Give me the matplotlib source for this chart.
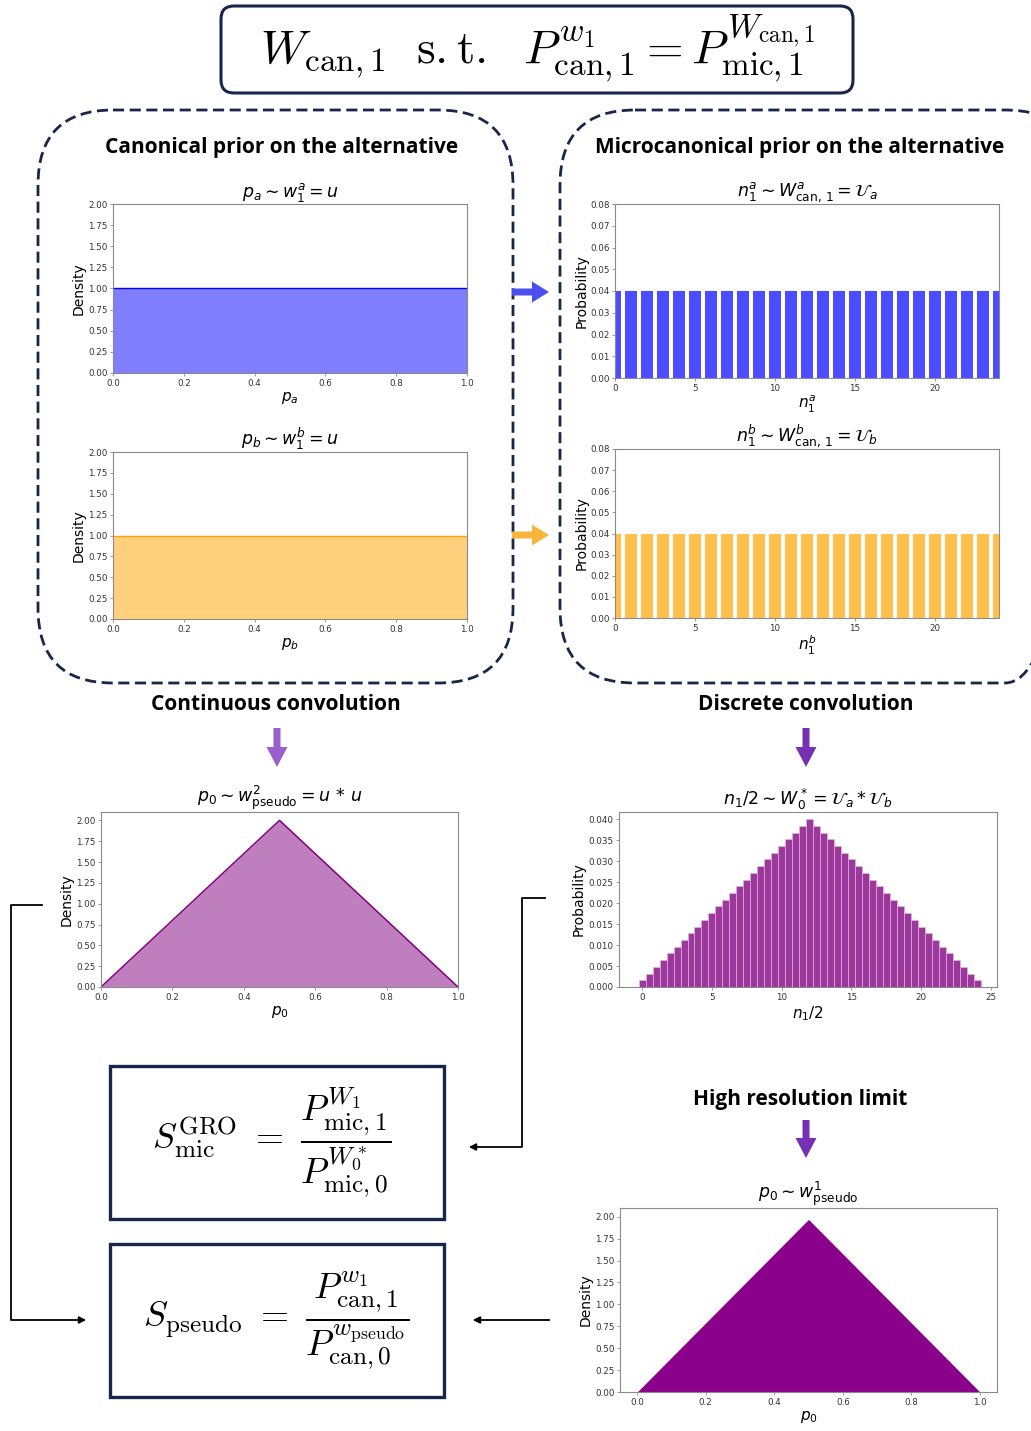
import matplotlib
matplotlib.use('Agg')
import matplotlib.pyplot as plt
from matplotlib.patches import FancyBboxPatch, Rectangle, FancyArrow

# ---------------- data ----------------
pa = [0.0, 1.0]
dens_a = [1.0, 1.0]
pb = [0.0, 1.0]
dens_b = [1.0, 1.0]

n1a = [0, 1, 2, 3, 4, 5, 6, 7, 8, 9, 10, 11, 12, 13, 14, 15, 16, 17, 18, 19, 20, 21, 22, 23, 24]
prob_a = [0.04] * 25
n1b = [0, 1, 2, 3, 4, 5, 6, 7, 8, 9, 10, 11, 12, 13, 14, 15, 16, 17, 18, 19, 20, 21, 22, 23, 24]
prob_b = [0.04] * 25

p0 = [0.0, 0.5, 1.0]
dens_p0 = [0.0, 2.0, 0.0]

n1_half = [0, 0.5, 1, 1.5, 2, 2.5, 3, 3.5, 4, 4.5, 5, 5.5, 6, 6.5, 7, 7.5, 8, 8.5, 9, 9.5,
           10, 10.5, 11, 11.5, 12, 12.5, 13, 13.5, 14, 14.5, 15, 15.5, 16, 16.5, 17, 17.5,
           18, 18.5, 19, 19.5, 20, 20.5, 21, 21.5, 22, 22.5, 23, 23.5, 24]
prob_conv = [0.0016, 0.0032, 0.0048, 0.0064, 0.0080, 0.0096, 0.0112, 0.0128, 0.0144, 0.0160,
             0.0176, 0.0192, 0.0208, 0.0224, 0.0240, 0.0256, 0.0272, 0.0288, 0.0304, 0.0320,
             0.0336, 0.0352, 0.0368, 0.0384, 0.0400, 0.0384, 0.0368, 0.0352, 0.0336, 0.0320,
             0.0304, 0.0288, 0.0272, 0.0256, 0.0240, 0.0224, 0.0208, 0.0192, 0.0176, 0.0160,
             0.0144, 0.0128, 0.0112, 0.0096, 0.0080, 0.0064, 0.0048, 0.0032, 0.0016]

p0_hr = [0.0, 0.5, 1.0]
dens_hr = [0.0, 1.97, 0.0]

# ---------------- figure ----------------
W, H = 1031, 1431
fig = plt.figure(figsize=(W / 100, H / 100), dpi=100)
ov = fig.add_axes([0, 0, 1, 1])
ov.set_xlim(0, W)
ov.set_ylim(H, 0)
ov.axis('off')

NAVY = '#17264a'
TICK_FS = 6.3
LAB_FS = 10
TIT_FS = 12.5


def ax_px(l, t, r, b):
    return fig.add_axes([l / W, 1 - b / H, (r - l) / W, (b - t) / H])


def style(ax):
    for s in ax.spines.values():
        s.set_color('#8a8a8a')
        s.set_linewidth(0.8)
    ax.tick_params(labelsize=TICK_FS, length=2.5, width=0.6, colors='#8a8a8a',
                   labelcolor='#333333', pad=1.5)


# ---- boxes ----
ov.add_patch(FancyBboxPatch((221, 6), 632, 87, boxstyle='round,pad=0,rounding_size=13',
                            fc='white', ec=NAVY, lw=2.2))
ov.add_patch(FancyBboxPatch((38, 110), 475, 573, boxstyle='round,pad=0,rounding_size=75',
                            fc='none', ec=NAVY, lw=2.0, ls=(0, (4, 2))))
ov.add_patch(FancyBboxPatch((560, 110), 520, 573, boxstyle='round,pad=0,rounding_size=75',
                            fc='none', ec=NAVY, lw=2.0, ls=(0, (4, 2))))
ov.add_patch(Rectangle((110, 1066), 334, 153, fc='white', ec=NAVY, lw=2.4))
ov.add_patch(Rectangle((110, 1244), 334, 153, fc='white', ec=NAVY, lw=2.4))

# ---- formulas ----
ov.text(538, 48, r'$W_{\rm can,1}\ \ {\rm s.t.}\ \ P^{w_1}_{\rm can,1} = P^{W_{\rm can,1}}_{\rm mic,1}$',
        ha='center', va='center', fontsize=34, math_fontfamily='cm')
ov.text(272, 1143, r'$S^{\rm GRO}_{\rm mic}\ =\ \dfrac{P^{W_1}_{\rm mic,1}}{P^{W_0^*}_{\rm mic,0}}$',
        ha='center', va='center', fontsize=26, math_fontfamily='cm')
ov.text(276, 1321, r'$S_{\rm pseudo}\ =\ \dfrac{P^{w_1}_{\rm can,1}}{P^{w_{\rm pseudo}}_{\rm can,0}}$',
        ha='center', va='center', fontsize=26, math_fontfamily='cm')

# ---- section titles ----
tkw = dict(ha='center', va='center', fontsize=15, fontweight='bold', family='Open Sans')
ov.text(282, 148, 'Canonical prior on the alternative', **tkw)
ov.text(800, 148, 'Microcanonical prior on the alternative', **tkw)
ov.text(276, 704, 'Continuous convolution', **tkw)
ov.text(806, 704, 'Discrete convolution', **tkw)
ov.text(800, 1100, 'High resolution limit', **tkw)

# ---- block arrows ----
ov.add_patch(FancyArrow(512, 292, 37, 0, width=7, head_width=21, head_length=17,
                        length_includes_head=True, color='#4b4ff0', lw=0))
ov.add_patch(FancyArrow(512, 535, 37, 0, width=7, head_width=21, head_length=17,
                        length_includes_head=True, color='#f7b53c', lw=0))
ov.add_patch(FancyArrow(277, 728, 0, 39, width=7, head_width=21, head_length=20,
                        length_includes_head=True, color='#9b5fd0', lw=0))
ov.add_patch(FancyArrow(806, 728, 0, 39, width=7, head_width=21, head_length=20,
                        length_includes_head=True, color='#7530b5', lw=0))
ov.add_patch(FancyArrow(806, 1120, 0, 38, width=7, head_width=21, head_length=20,
                        length_includes_head=True, color='#7530b5', lw=0))

# ---- connector lines ----
ov.plot([42, 11, 11, 80], [905, 905, 1320, 1320], color='black', lw=1.3)
ov.annotate('', xy=(89, 1320), xytext=(78, 1320),
            arrowprops=dict(arrowstyle='-|>', color='black', lw=1.3, mutation_scale=10))
ov.plot([545, 522, 522, 476], [898, 898, 1147, 1147], color='black', lw=1.3)
ov.annotate('', xy=(466, 1147), xytext=(478, 1147),
            arrowprops=dict(arrowstyle='-|>', color='black', lw=1.3, mutation_scale=10))
ov.plot([549, 480], [1320, 1320], color='black', lw=1.3)
ov.annotate('', xy=(470, 1320), xytext=(482, 1320),
            arrowprops=dict(arrowstyle='-|>', color='black', lw=1.3, mutation_scale=10))

# ---------------- plots ----------------
# canonical a
ax = ax_px(113, 204, 467, 373)
ax.fill_between(pa, dens_a, color='blue', alpha=0.5, lw=0)
ax.plot(pa, dens_a, color='blue', lw=1.0)
ax.set_xlim(0, 1); ax.set_ylim(0, 2)
ax.set_title(r'$p_a \sim w_1^a = u$', fontsize=TIT_FS, pad=1)
ax.set_xlabel(r'$p_a$', fontsize=LAB_FS + 1, labelpad=2)
ax.set_ylabel('Density', fontsize=LAB_FS, labelpad=2)
style(ax)

# canonical b
ax = ax_px(113, 452, 467, 619)
ax.fill_between(pb, dens_b, color='orange', alpha=0.5, lw=0)
ax.plot(pb, dens_b, color='orange', lw=1.0)
ax.set_xlim(0, 1); ax.set_ylim(0, 2)
ax.set_title(r'$p_b \sim w_1^b = u$', fontsize=TIT_FS, pad=1)
ax.set_xlabel(r'$p_b$', fontsize=LAB_FS + 1, labelpad=2)
ax.set_ylabel('Density', fontsize=LAB_FS, labelpad=2)
style(ax)

# micro a
ax = ax_px(615, 204, 999, 378)
ax.bar(n1a, prob_a, width=0.8, color='blue', alpha=0.7, lw=0)
ax.set_xlim(0, 24); ax.set_ylim(0, 0.08)
ax.set_xticks([0, 5, 10, 15, 20])
ax.set_title(r'$n_1^a \sim W^a_{\rm can,\,1} = \mathcal{U}_a$', fontsize=TIT_FS, pad=1)
ax.set_xlabel(r'$n_1^a$', fontsize=LAB_FS + 1, labelpad=1)
ax.set_ylabel('Probability', fontsize=LAB_FS, labelpad=1)
style(ax)

# micro b
ax = ax_px(615, 449, 999, 618)
ax.bar(n1b, prob_b, width=0.8, color='orange', alpha=0.7, lw=0)
ax.set_xlim(0, 24); ax.set_ylim(0, 0.08)
ax.set_xticks([0, 5, 10, 15, 20])
ax.set_title(r'$n_1^b \sim W^b_{\rm can,\,1} = \mathcal{U}_b$', fontsize=TIT_FS, pad=1)
ax.set_xlabel(r'$n_1^b$', fontsize=LAB_FS + 1, labelpad=1)
ax.set_ylabel('Probability', fontsize=LAB_FS, labelpad=1)
style(ax)

# continuous convolution
ax = ax_px(101, 812, 458, 987)
ax.fill_between(p0, dens_p0, color='purple', alpha=0.5, lw=0)
ax.plot(p0, dens_p0, color='purple', lw=1.1)
ax.set_xlim(0, 1); ax.set_ylim(0, 2.1)
ax.set_yticks([0, 0.25, 0.5, 0.75, 1.0, 1.25, 1.5, 1.75, 2.0])
ax.set_title(r'$p_0 \sim w^2_{\rm pseudo} = u\, *\, u$', fontsize=TIT_FS, pad=1)
ax.set_xlabel(r'$p_0$', fontsize=LAB_FS + 1, labelpad=2)
ax.set_ylabel('Density', fontsize=LAB_FS, labelpad=2)
style(ax)

# discrete convolution
ax = ax_px(619, 812, 997, 987)
ax.bar(n1_half, prob_conv, width=0.5, color='purple', alpha=0.78, ec='#e2b8e2', lw=0.6)
ax.set_xlim(-1.66, 25.43); ax.set_ylim(0, 0.0417)
ax.set_xticks([0, 5, 10, 15, 20, 25])
ax.set_yticks([0, 0.005, 0.01, 0.015, 0.02, 0.025, 0.03, 0.035, 0.04])
ax.yaxis.set_major_formatter(matplotlib.ticker.FormatStrFormatter('%.3f'))
ax.set_title(r'$n_1/2 \sim W_0^* = \mathcal{U}_a * \mathcal{U}_b$', fontsize=TIT_FS, pad=1)
ax.set_xlabel(r'$n_1/2$', fontsize=LAB_FS + 1, labelpad=2)
ax.set_ylabel('Probability', fontsize=LAB_FS, labelpad=2)
style(ax)

# high resolution
ax = ax_px(620, 1208, 997, 1392)
ax.fill_between(p0_hr, dens_hr, color='#8a008a', lw=0)
ax.set_xlim(-0.05, 1.05); ax.set_ylim(0, 2.1)
ax.set_yticks([0, 0.25, 0.5, 0.75, 1.0, 1.25, 1.5, 1.75, 2.0])
ax.yaxis.set_major_formatter(matplotlib.ticker.FormatStrFormatter('%.2f'))
ax.set_title(r'$p_0 \sim w^1_{\rm pseudo}$', fontsize=TIT_FS, pad=1)
ax.set_xlabel(r'$p_0$', fontsize=LAB_FS + 1, labelpad=2)
ax.set_ylabel('Density', fontsize=LAB_FS, labelpad=2)
style(ax)

fig.savefig('out.png', dpi=100)
